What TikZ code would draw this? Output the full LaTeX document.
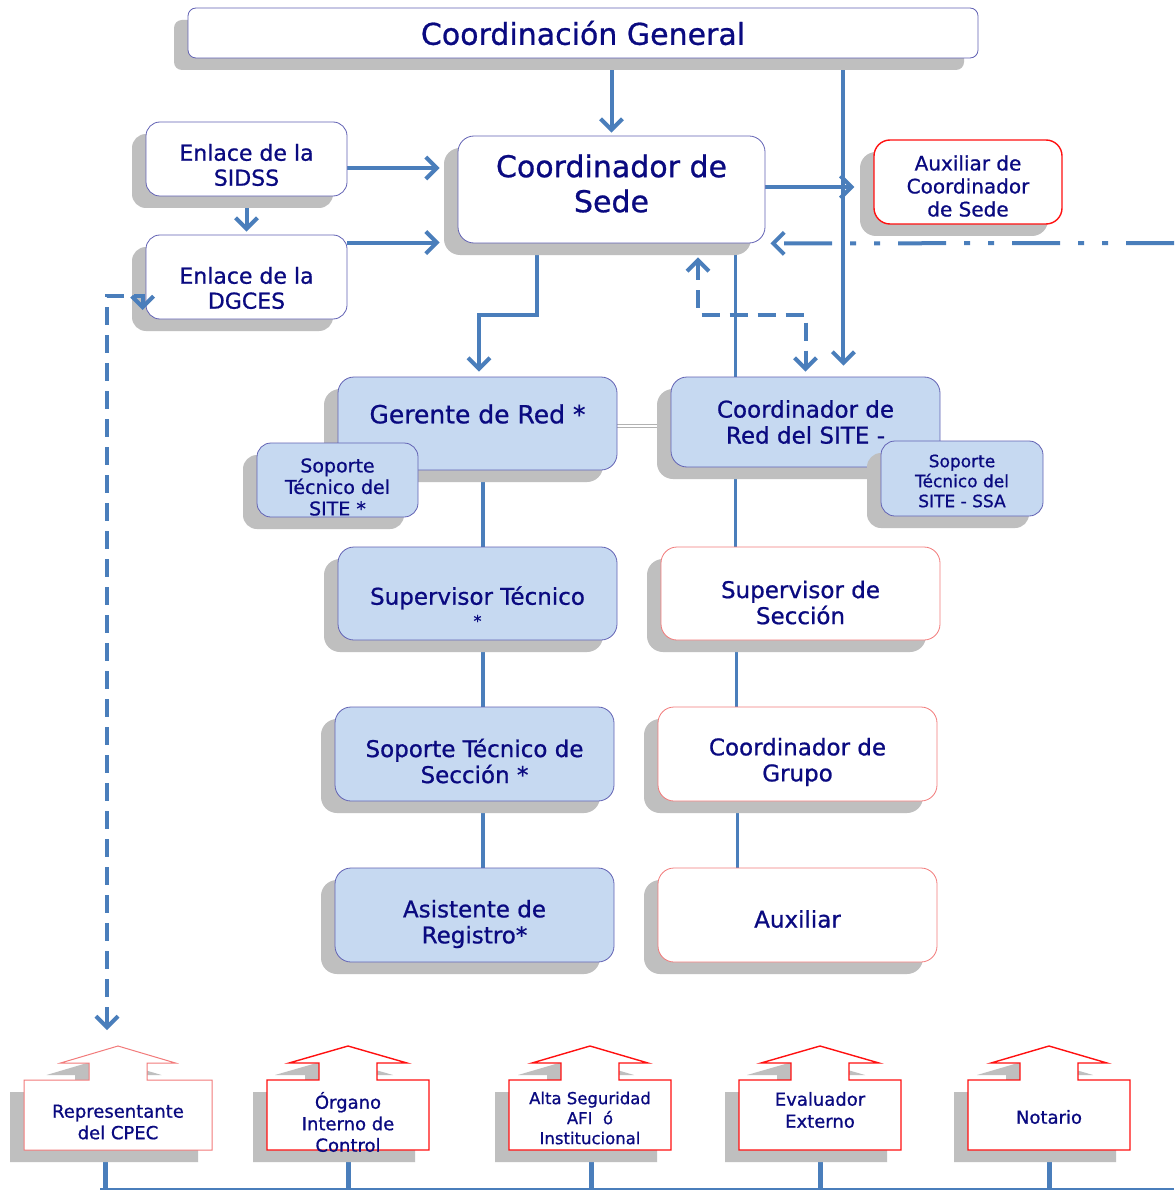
\documentclass[tikz,border=0pt]{standalone}
\usepackage{fontspec}
\setmainfont[FakeBold=0.8]{DejaVu Sans}
\usetikzlibrary{arrows.meta,shadows,calc}
\definecolor{navy}{HTML}{0A0A80}
\definecolor{lblue}{HTML}{4A7EBB}
\definecolor{fillb}{HTML}{C6D9F1}
\definecolor{slate}{HTML}{6262B4}
\definecolor{shgray}{HTML}{BFBFBF}
\definecolor{pinkred}{HTML}{F27A7A}
\definecolor{bred}{HTML}{FF1010}
\pgfdeclarelayer{bg}
\pgfsetlayers{bg,main}
\newcommand\fs[2]{\fontsize{#1}{#2}\selectfont}
\newcommand\hpath[3]{(#1-#2,1080) -- (#1-29,1080) -- (#1-29,1063) -- (#1-#3,1063) -- (#1,1046) -- (#1+#3,1063) -- (#1+29,1063) -- (#1+29,1080) -- (#1+#2,1080) -- (#1+#2,1150) -- (#1-#2,1150) -- cycle}
\newcommand\househ[4]{%
  \begin{scope}[shift={(-14,12)}]\fill[shgray] \hpath{#1}{#2}{#3};\end{scope}
  \draw[#4, fill=white] \hpath{#1}{#2}{#3};}
\tikzset{
  shd/.style={drop shadow={shadow xshift=-14pt,shadow yshift=-12pt,fill=shgray,opacity=1}},
  sz/.style 2 args={minimum width=#1pt, minimum height=#2pt},
  boxbase/.style={shd, inner sep=0pt, line width=0.8pt},
  wbox/.style={boxbase, draw=slate, fill=white},
  bbox/.style={boxbase, draw=slate, fill=fillb},
  rbox/.style={boxbase, draw=pinkred, fill=white},
  abox/.style={boxbase, draw=bred, line width=1.4pt, fill=white},
  txt/.style={text=navy, align=center, inner sep=0pt},
  conn/.style={draw=lblue, line width=4pt},
  arrowend/.style={-{Straight Barb[length=11pt,width=22pt]}},
  twoends/.style={{Straight Barb[length=11pt,width=22pt]}-{Straight Barb[length=11pt,width=22pt]}},
  dsh/.style={dash pattern=on 18pt off 10pt},
  ddot/.style={dash pattern=on 48pt off 18pt on 6pt off 18pt on 6pt off 18pt},
  redline/.style={draw=bred, line width=1.4pt},
  pinkline/.style={draw=pinkred, line width=1pt},
}
\begin{document}
\begin{tikzpicture}[x=1pt,y=-1pt]
\useasboundingbox (0,0) rectangle (1174,1190);
\begin{pgfonlayer}{bg}
\fill[white] (0,0) rectangle (1174,1190);
\end{pgfonlayer}

% ---- boxes
\node[wbox, sz={790}{50}, rounded corners=8pt,
  label={[txt,font=\fs{30}{35}]center:Coordinación General}] (cg) at (583,33) {};
\node[wbox, sz={307}{107}, rounded corners=16pt,
  label={[txt,font=\fs{30}{35},yshift=6pt]center:{Coordinador de\\Sede}}] (cs) at (611.5,189.5) {};
\node[wbox, sz={201}{74}, rounded corners=14pt,
  label={[txt,font=\fs{22}{25},yshift=-6pt]center:{Enlace de la\\SIDSS}}] (sidss) at (246.5,159) {};
\node[wbox, sz={201}{84}, rounded corners=14pt,
  label={[txt,font=\fs{22}{25},yshift=-11pt]center:{Enlace de la\\DGCES}}] (dgces) at (246.5,277) {};
\node[abox, sz={188}{84}, rounded corners=16pt,
  label={[txt,font=\fs{20}{23},yshift=-4pt]center:{Auxiliar de\\Coordinador\\de Sede}}] (aux) at (968,182) {};

\node[bbox, sz={279}{93}, rounded corners=16pt,
  label={[txt,font=\fs{25}{30},yshift=9.5pt]center:{Gerente de Red *}}] (ger) at (477.5,423.5) {};
\node[bbox, sz={161}{74}, rounded corners=14pt,
  label={[txt,font=\fs{19}{21.5},yshift=-7pt]center:{Soporte\\Técnico del\\SITE *}}] (stg) at (337.5,480) {};
\node[bbox, sz={269}{90}, rounded corners=16pt,
  label={[txt,font=\fs{23}{26}]center:{Coordinador de\\Red del SITE -}}] (cr) at (805.5,422) {};
\node[bbox, sz={162}{75}, rounded corners=14pt,
  label={[txt,font=\fs{17}{20},yshift=-2.5pt]center:{Soporte\\Técnico del\\SITE - SSA}}] (ssa) at (962,478.5) {};

\node[bbox, sz={279}{93}, rounded corners=16pt,
  label={[txt,font=\fs{23}{22},yshift=-13pt]center:{Supervisor Técnico\\{\fs{16}{18}*}}}] (st) at (477.5,593.5) {};
\node[rbox, sz={279}{93}, rounded corners=16pt,
  label={[txt,font=\fs{23}{26},yshift=-9pt]center:{Supervisor de\\Sección}}] (ss) at (800.5,593.5) {};
\node[bbox, sz={279}{94}, rounded corners=16pt,
  label={[txt,font=\fs{23}{26},yshift=-7pt]center:{Soporte Técnico de\\Sección *}}] (stsec) at (474.5,754) {};
\node[rbox, sz={279}{94}, rounded corners=16pt,
  label={[txt,font=\fs{23}{26},yshift=-8pt]center:{Coordinador de\\Grupo}}] (cgrp) at (797.5,754) {};
\node[bbox, sz={279}{94}, rounded corners=16pt,
  label={[txt,font=\fs{23}{26},yshift=-9pt]center:{Asistente de\\Registro*}}] (asis) at (474.5,915) {};
\node[rbox, sz={279}{94}, rounded corners=16pt,
  label={[txt,font=\fs{23}{26},yshift=-4pt]center:{Auxiliar}}] (auxl) at (797.5,915) {};

% ---- bottom houses
\househ{118}{94}{57.5}{pinkline}
\househ{348}{81}{59}{redline}
\househ{590}{81}{58}{redline}
\househ{820}{81}{59}{redline}
\househ{1049}{81}{58}{redline}
\node[txt,font=\fs{18}{21.5}] (rep) at (118,1122) {Representante\\del CPEC};
\node[txt,font=\fs{18}{21.5}] (oic) at (348,1122) {Órgano\\Interno de\\Control};
\node[txt,font=\fs{16.5}{20}] (alta) at (590,1118) {Alta Seguridad\\AFI~ ó\\Institucional};
\node[txt,font=\fs{18}{22}] (eval) at (820,1110) {Evaluador\\Externo};
\node[txt,font=\fs{18}{22}] (not) at (1049,1117) {Notario};

% ---- connectors
\coordinate (c1) at ($(cs.south east)+(-30,0)$);
\coordinate (c2) at ($(cr.south west)+(65,0)$);
\coordinate (c3) at ($(ss.south west)+(76,0)$);
\coordinate (c4) at ($(cgrp.south west)+(80,0)$);
\coordinate (ddfar) at (1174,243);
\coordinate (busL) at (100,1188.5);
\coordinate (busR) at (1174,1188.5);
\coordinate (rep-b) at (105,1162);
\coordinate (oic-b) at (348,1162);
\coordinate (alta-b) at (591,1162);
\coordinate (eval-b) at (820,1162);
\coordinate (not-b) at (1049,1162);
\begin{pgfonlayer}{bg}
\draw[conn,arrowend] (cg.south -| cs.north) -- ($(cs.north)+(0,-3)$);
\draw[conn,arrowend] ($(cg.south east)+(-135,0)$) -- ($(cr.north east)+(-97,-11)$);
\draw[conn,arrowend] ($(sidss.east)+(0,9)$) -- ($(cs.west |- sidss.east)+(-18,9)$);
\draw[conn,arrowend] (sidss.south) -- ($(dgces.north)+(0,-3)$);
\draw[conn,arrowend] ($(dgces.north east)+(0,8)$) -- ($(cs.west |- dgces.north)+(-18,8)$);
\draw[conn,arrowend] ($(cs.east)+(0,-2.5)$) -- ($(aux.west)+(-19,5)$);
\draw[conn,ddot,arrowend] (ddfar) -- ($(cs.south east)+(5,0)$);
\draw[conn,arrowend] ($(cs.south west)+(79,0)$) -- ++(0,72) -| ($(ger.north)+(1.5,-5)$);
\draw[conn,line width=3.5pt] (c1) -- (c1 |- cr.north);
\draw[conn,line width=3.5pt] (c2) -- (c2 |- ss.north);
\draw[conn,line width=3.5pt] (c3) -- (c3 |- cgrp.north);
\draw[conn,line width=3.5pt] (c4) -- (c4 |- auxl.north);
\draw[conn,line width=3.5pt] ($(ger.south)+(5.5,0)$) -- ($(st.north)+(5.5,0)$);
\draw[conn,line width=3.5pt] ($(st.south)+(5.5,0)$) -- ($(stsec.north)+(8.5,0)$);
\draw[conn,line width=3.5pt] ($(stsec.south)+(8.5,0)$) -- ($(asis.north)+(8.5,0)$);
\draw[conn,dsh,twoends] ($(cs.south)+(86.5,14)$) |- ($(cr.north)+(0,-62)$) -- ($(cr.north)+(0,-5)$);
\draw[double=white, draw=gray!60, line width=1pt, double distance=2pt] ($(ger.east)+(0,2.5)$) -- ($(cr.west)+(0,4)$);
\draw[lblue,line width=2pt] (busL) -- (busR);
\foreach \s in {rep-b,oic-b,alta-b,eval-b,not-b}
  \draw[conn,line width=5pt] (\s) -- (\s |- busR);
\end{pgfonlayer}
\draw[conn,dsh,twoends] ($(dgces.west)+(-3,33)$) -- ($(dgces.west)+(-3,19)$) -| ($(rep)+(-11,-92)$);
\end{tikzpicture}
\end{document}
